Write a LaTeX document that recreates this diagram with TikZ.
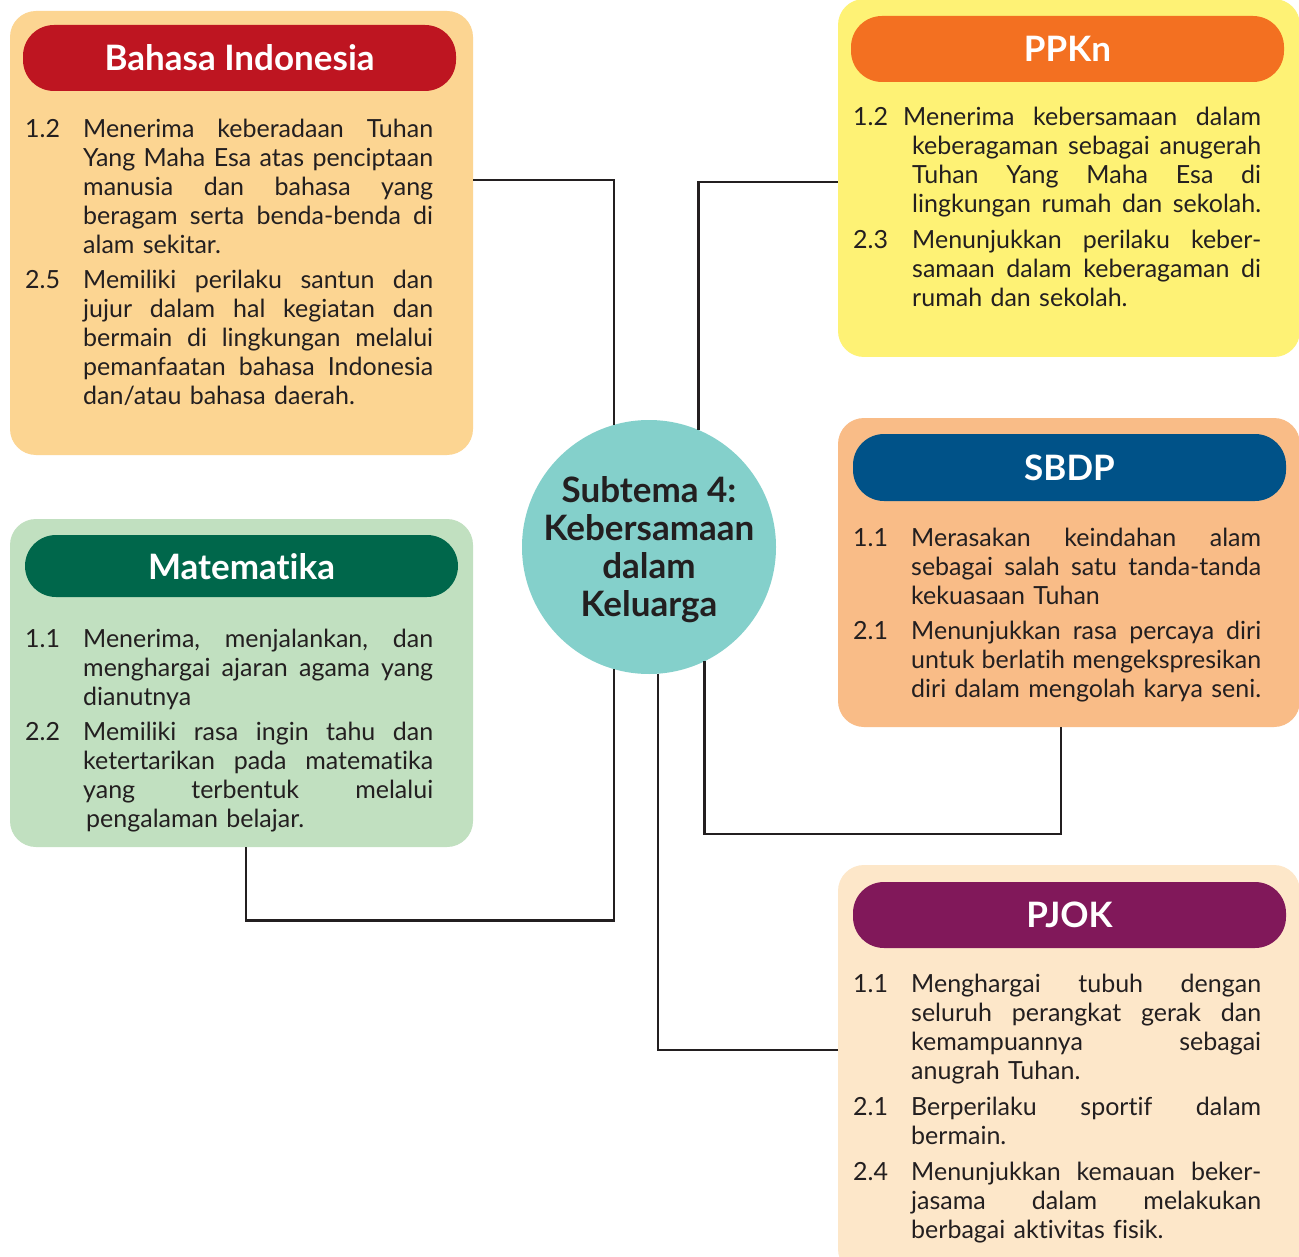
\documentclass[tikz,border=0pt]{standalone}
\usepackage{fontspec}
\setmainfont{Lato}[Ligatures=NoCommon]
\usetikzlibrary{calc}
\definecolor{ink}{HTML}{231F20}
\definecolor{biBg}{HTML}{FCD592}
\definecolor{biHd}{HTML}{BE1521}
\definecolor{ppBg}{HTML}{FEF275}
\definecolor{ppHd}{HTML}{F37021}
\definecolor{sbBg}{HTML}{F9BC87}
\definecolor{sbHd}{HTML}{005288}
\definecolor{mtBg}{HTML}{C1E0C0}
\definecolor{mtHd}{HTML}{00674B}
\definecolor{pjBg}{HTML}{FDE7C9}
\definecolor{pjHd}{HTML}{81185A}
\definecolor{circBg}{HTML}{84D0CB}
\newcommand\bodyfont{\fontsize{25pt}{29pt}\selectfont}
\newcommand\titlefont{\fontsize{35pt}{38pt}\selectfont\bfseries}
\newcommand\stretchsp{\spaceskip=\fontdimen2\font plus 1fil minus \fontdimen4\font\relax}
\newcommand\jbox[2]{\hbox to #1{\stretchsp #2}}
\newcommand\jline[2]{\makebox[58pt][l]{#1}\jbox{350pt}{#2}}
\newcommand\lline[2]{\makebox[58pt][l]{#1}#2}
\newcommand\pjline[2]{\makebox[59pt][l]{#1}\jbox{349pt}{#2}}
\tikzset{
  panel/.style={rectangle, rounded corners=26pt, inner sep=0pt, draw=none, fill=#1},
  header/.style={rectangle, rounded corners=31pt, fill=#1, text=white, font=\titlefont,
    minimum width=433pt, minimum height=66pt, inner sep=0pt, text depth=0pt},
  body/.style={anchor=base west, text width=408pt, align=left, inner sep=0pt,
    font=\bodyfont, text=ink},
  conn/.style={draw=ink, line width=2.6pt},
}
\begin{document}
\begin{tikzpicture}[x=1pt, y=-1pt]
\clip (0,0) rectangle (1299,1257);
\fill[white] (0,0) rectangle (1299,1257);

% panels
\node[panel=biBg, minimum width=463pt, minimum height=444pt] (bi) at (241.5,233) {};
\node[panel=ppBg, minimum width=462pt, minimum height=358pt] (pp) at (1069,178) {};
\node[panel=sbBg, minimum width=462pt, minimum height=309pt] (sb) at (1069,572.5) {};
\node[panel=mtBg, minimum width=463pt, minimum height=328pt] (mt) at (241.5,683) {};
\node[panel=pjBg, minimum width=462pt, minimum height=410pt] (pj) at (1069,1070) {};

% headers
\node[header=biHd] (bih) at (239.5,58) {Bahasa Indonesia};
\node[header=ppHd] (pph) at (1067.5,49) {PPKn};
\node[header=sbHd, minimum height=67pt] (sbh) at (1069.5,467.5) {SBDP};
\node[header=mtHd, minimum height=62pt] (mth) at (241.5,566) {Matematika};
\node[header=pjHd] (pjh) at (1069.5,915) {PJOK};

% bodies
\node[body] (bib) at (25,138) {%
\jline{1.2}{Menerima keberadaan Tuhan}\\
\jline{}{Yang Maha Esa atas penciptaan}\\
\jline{}{manusia dan bahasa yang}\\
\jline{}{beragam serta benda-benda di}\\
\lline{}{alam sekitar.}\\[6pt]
\jline{2.5}{Memiliki perilaku santun dan}\\
\jline{}{jujur dalam hal kegiatan dan}\\
\jline{}{bermain di lingkungan melalui}\\
\jline{}{pemanfaatan bahasa Indonesia}\\
\lline{}{dan/atau bahasa daerah.}};

\node[body] (ppb) at (853,126) {%
\makebox[50pt][l]{1.2}\jbox{358pt}{Menerima kebersamaan dalam}\\
\pjline{}{keberagaman sebagai anugerah}\\
\pjline{}{Tuhan Yang Maha Esa di}\\
\pjline{}{lingkungan rumah dan sekolah.}\\[7pt]
\pjline{2.3}{Menunjukkan perilaku keber-}\\
\pjline{}{samaan dalam keberagaman di}\\
\makebox[59pt][l]{}rumah dan sekolah.};

\node[body] (sbb) at (853,546) {%
\jline{1.1}{Merasakan keindahan alam}\\
\jline{}{sebagai salah satu tanda-tanda}\\
\lline{}{kekuasaan Tuhan}\\[6pt]
\jline{2.1}{Menunjukkan rasa percaya diri}\\
\jline{}{untuk berlatih mengekspresikan}\\
\jline{}{diri dalam mengolah karya seni.}};

\node[body] (mtb) at (25,647) {%
\jline{1.1}{Menerima, menjalankan, dan}\\
\jline{}{menghargai ajaran agama yang}\\
\lline{}{dianutnya}\\[6pt]
\jline{2.2}{Memiliki rasa ingin tahu dan}\\
\jline{}{ketertarikan pada matematika}\\
\jline{}{yang terbentuk melalui}\\
\lline{}{\hspace*{3pt}pengalaman belajar.}};

\node[body] (pjb) at (853,992) {%
\jline{1.1}{Menghargai tubuh dengan}\\
\jline{}{seluruh perangkat gerak dan}\\
\jline{}{kemampuannya sebagai}\\
\lline{}{anugrah Tuhan.}\\[7pt]
\jline{2.1}{Berperilaku sportif dalam}\\
\lline{}{bermain.}\\[7pt]
\jline{2.4}{Menunjukkan kemauan beker-}\\
\jline{}{jasama dalam melakukan}\\
\lline{}{berbagai aktivitas fisik.}};

% centre
\node[circle, fill=circBg, minimum size=254pt, inner sep=0pt] (circ) at (649,547) {};
\node[align=center, inner sep=0pt, text=ink, anchor=base,
  font=\fontsize{35pt}{38pt}\selectfont\bfseries] (circt) at (649,616)
  {Subtema 4:\\Kebersamaan\\dalam\\Keluarga};

% connectors
\draw[conn] (bi.east |- 0,180) -| (circ.106.5);
\draw[conn] (pp.west |- 0,182) -| (circ.67.3);
\draw[conn] (circ.-64.8) |- ([xshift=-8pt]sb.south |- 0,834) -- ([xshift=-8pt]sb.south);
\draw[conn] ([xshift=4.5pt]mt.south) -- ++(0,73) -| (circ.-106.5);
\draw[conn] (circ.-86.8) |- (pj.west |- 0,1050);
\end{tikzpicture}
\end{document}
